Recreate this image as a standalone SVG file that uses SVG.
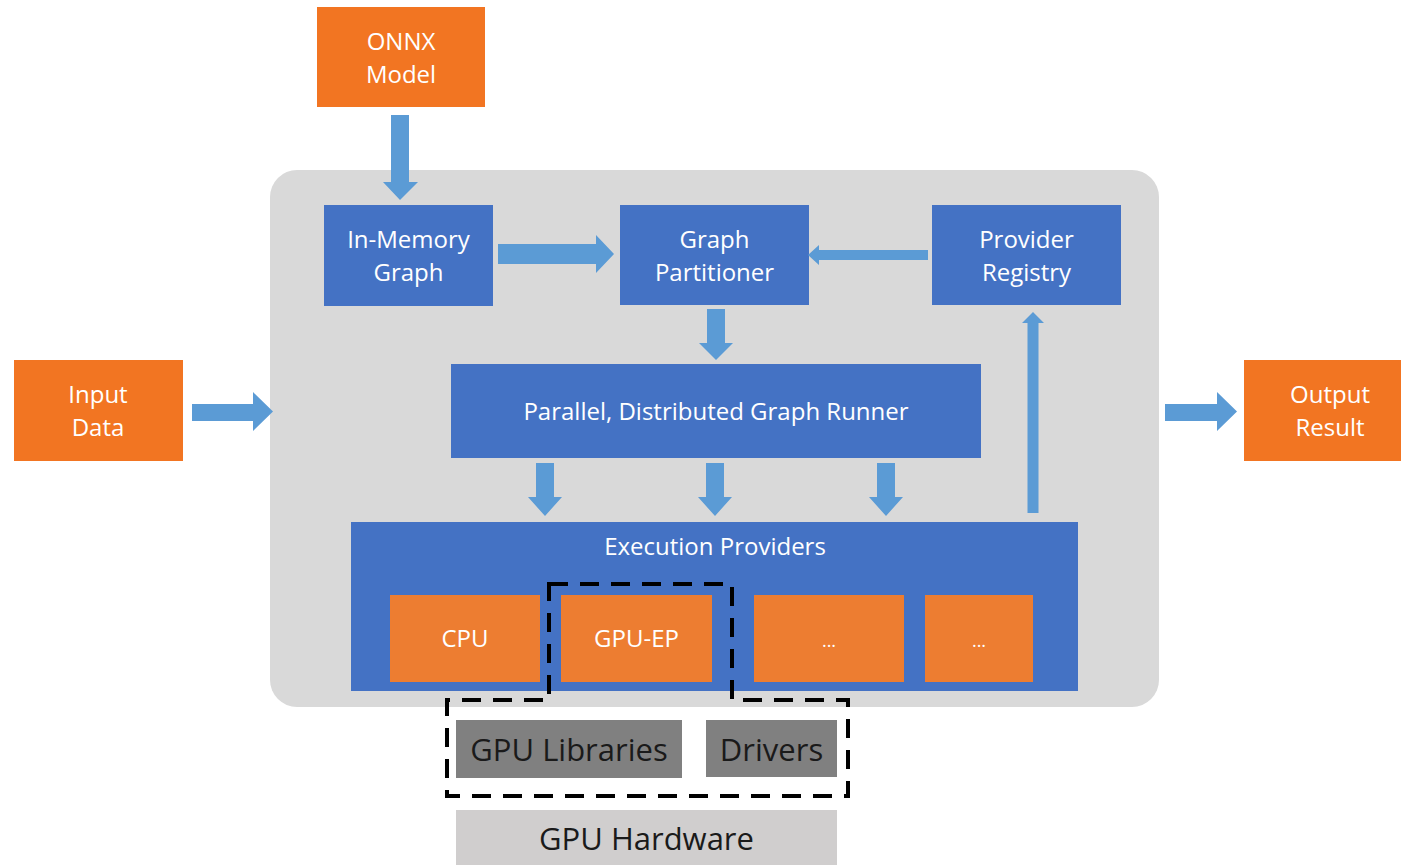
<svg xmlns="http://www.w3.org/2000/svg" width="1401" height="865" viewBox="0 0 1401 865">
  <style>
    .io { fill: #F27522; }
    .blue { fill: #4472C4; }
    .ep { fill: #ED7D31; }
    .lib { fill: #808080; }
    .hw { fill: #D0CECE; }
    .arrow { fill: #5B9BD5; }
    .lbl { font-family: "Open Sans", "Noto Sans", "Liberation Sans", sans-serif; font-size: 24px; fill: #FFFFFF; text-anchor: middle; }
    .dots { font-size: 18px; }
    .dark { font-family: "Open Sans", "Noto Sans", "Liberation Sans", sans-serif; font-size: 31px; fill: #1A1A1A; text-anchor: middle; }
    .dash { fill: none; stroke: #000000; stroke-width: 4; stroke-dasharray: 19 12; }
  </style>
  <rect width="1401" height="865" fill="#FFFFFF"/>

  <!-- runtime container -->
  <g id="runtime">
    <rect x="270" y="170" width="889" height="537" rx="27" ry="27" fill="#D9D9D9"/>
  </g>

  <g id="onnx-model">
    <rect class="io" x="317" y="7" width="168" height="100"/>
    <text class="lbl" x="401" y="50">ONNX</text>
    <text class="lbl" x="401" y="83">Model</text>
  </g>

  <g id="input-data">
    <rect class="io" x="14" y="360" width="169" height="101"/>
    <text class="lbl" x="98" y="403">Input</text>
    <text class="lbl" x="98" y="436">Data</text>
  </g>

  <g id="output-result">
    <rect class="io" x="1244" y="360" width="157" height="101"/>
    <text class="lbl" x="1330" y="403">Output</text>
    <text class="lbl" x="1330" y="436">Result</text>
  </g>

  <g id="in-memory-graph">
    <rect class="blue" x="324" y="205" width="169" height="101"/>
    <text class="lbl" x="408.5" y="248">In-Memory</text>
    <text class="lbl" x="408.5" y="281">Graph</text>
  </g>

  <g id="graph-partitioner">
    <rect class="blue" x="620" y="205" width="189" height="100"/>
    <text class="lbl" x="714.5" y="248">Graph</text>
    <text class="lbl" x="714.5" y="281">Partitioner</text>
  </g>

  <g id="provider-registry">
    <rect class="blue" x="932" y="205" width="189" height="100"/>
    <text class="lbl" x="1026.5" y="248">Provider</text>
    <text class="lbl" x="1026.5" y="281">Registry</text>
  </g>

  <g id="graph-runner">
    <rect class="blue" x="451" y="364" width="530" height="94"/>
    <text class="lbl" x="716" y="420">Parallel, Distributed Graph Runner</text>
  </g>

  <g id="execution-providers">
    <rect class="blue" x="351" y="522" width="727" height="169"/>
    <text class="lbl" x="715" y="555">Execution Providers</text>
  </g>

  <g id="ep-cpu">
    <rect class="ep" x="390" y="595" width="150" height="87"/>
    <text class="lbl" x="465" y="647">CPU</text>
  </g>

  <g id="ep-gpu">
    <rect class="ep" x="561" y="595" width="151" height="87"/>
    <text class="lbl" x="636.5" y="647">GPU-EP</text>
  </g>

  <g id="ep-other-1">
    <rect class="ep" x="754" y="595" width="150" height="87"/>
    <text class="lbl dots" x="829" y="647">...</text>
  </g>

  <g id="ep-other-2">
    <rect class="ep" x="925" y="595" width="108" height="87"/>
    <text class="lbl dots" x="979" y="647">...</text>
  </g>

  <g id="gpu-libraries">
    <rect class="lib" x="456" y="720" width="226" height="58"/>
    <text class="dark" x="569" y="761">GPU Libraries</text>
  </g>

  <g id="drivers">
    <rect class="lib" x="706" y="720" width="131" height="57"/>
    <text class="dark" x="771.5" y="761">Drivers</text>
  </g>

  <g id="gpu-hardware">
    <rect class="hw" x="456" y="810" width="381" height="55"/>
    <text class="dark" x="646.5" y="850">GPU Hardware</text>
  </g>

  <!-- GPU execution path outline -->
  <g id="gpu-boundary">
    <path class="dash" d="M549,584 H732 V700 H848 V796 H447 V700 H549 Z"/>
  </g>

  <g id="connectors">
    <!-- ONNX Model -> In-Memory Graph -->
    <path class="arrow" d="M391,115 H409 V182 H418 L400,200 L383,182 H391 Z"/>
    <!-- In-Memory Graph -> Graph Partitioner -->
    <path class="arrow" d="M498,244 H596 V235 L614,254 L596,273 V264 H498 Z"/>
    <!-- Provider Registry -> Graph Partitioner -->
    <path class="arrow" d="M928,250 H819 V245 L808,255 L819,265 V260 H928 Z"/>
    <!-- Graph Partitioner -> Graph Runner -->
    <path class="arrow" d="M707,309 H725 V343 H733 L716,360 L699,343 H707 Z"/>
    <!-- Graph Runner -> Execution Providers -->
    <path class="arrow" d="M536,463 H554 V497 H562 L545,516 L528,497 H536 Z"/>
    <path class="arrow" d="M706,463 H724 V497 H732 L715,516 L698,497 H706 Z"/>
    <path class="arrow" d="M877,463 H895 V497 H903 L886,516 L869,497 H877 Z"/>
    <!-- Execution Providers -> Provider Registry -->
    <path class="arrow" d="M1027.5,513 V323 H1022 L1033,312 L1044,323 H1038.5 V513 Z"/>
    <!-- Input Data -> runtime -->
    <path class="arrow" d="M192,404 H253 V392 L273,411.5 L253,431 V421 H192 Z"/>
    <!-- runtime -> Output Result -->
    <path class="arrow" d="M1165,404 H1217 V392 L1237,411.5 L1217,431 V421 H1165 Z"/>
  </g>
</svg>
